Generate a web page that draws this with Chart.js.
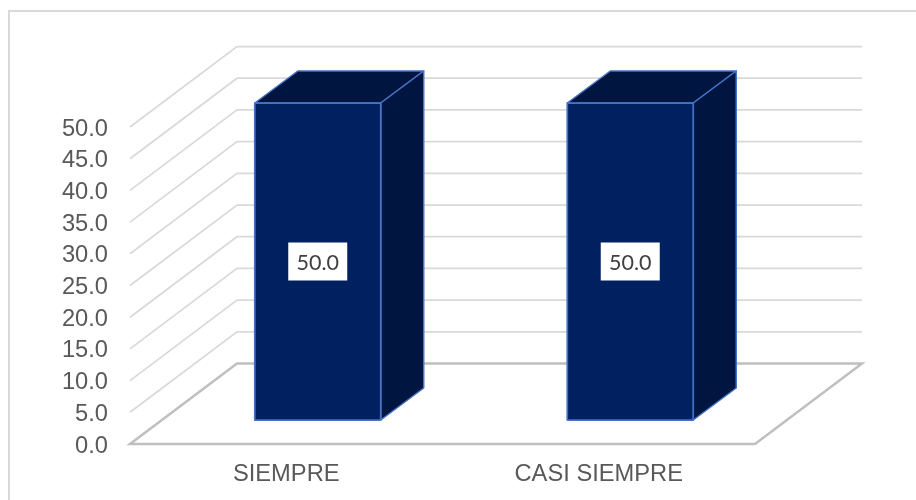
<!DOCTYPE html>
<html>
<head>
<meta charset="utf-8">
<title>Chart</title>
<script src="https://cdn.jsdelivr.net/npm/chart.js@4"></script>
<style>
  html, body { margin: 0; padding: 0; background: #fff; }
  #wrap { width: 916px; height: 500px; }
</style>
</head>
<body>
<div id="wrap"><canvas id="chart" width="916" height="500"></canvas></div>
<script>
const categories = ['SIEMPRE', 'CASI SIEMPRE'];
const values = [50.0, 50.0];
const yMax = 50;
const yStep = 5;

// depth of the floor and of the boxes standing on it
const wallDx = 107, wallDy = -80.5;
const barShiftX = 31.5, barShiftY = -24;
const barDx = 43, barDy = -32;

const fakeThreeD = {
  id: 'fakeThreeD',
  beforeDraw(chart) {
    const { ctx, chartArea: a, scales: { y } } = chart;
    ctx.save();
    // outer frame, only the top and left edges land on the canvas
    ctx.strokeStyle = '#d9d9d9';
    ctx.lineWidth = 2;
    ctx.strokeRect(9, 11, 920, 500);

    // wall grid lines, side wall then back wall
    ctx.lineWidth = 1.75;
    for (let v = yStep; v <= yMax; v += yStep) {
      const py = y.getPixelForValue(v);
      ctx.beginPath();
      ctx.moveTo(a.left, py);
      ctx.lineTo(a.left + wallDx, py + wallDy);
      ctx.lineTo(a.right + wallDx, py + wallDy);
      ctx.stroke();
    }

    // floor
    const y0 = y.getPixelForValue(0);
    ctx.strokeStyle = '#bfbfbf';
    ctx.lineWidth = 2.5;
    ctx.lineJoin = 'miter';
    ctx.beginPath();
    ctx.moveTo(a.left, y0);
    ctx.lineTo(a.right, y0);
    ctx.lineTo(a.right + wallDx, y0 + wallDy);
    ctx.lineTo(a.left + wallDx, y0 + wallDy);
    ctx.closePath();
    ctx.stroke();
    ctx.restore();
  },
  beforeDatasetDraw(chart, args) {
    const { ctx } = chart;
    ctx.save();
    ctx.translate(barShiftX, barShiftY);
    // top and side of each box, the front comes from the bar element
    ctx.fillStyle = '#001641';
    ctx.strokeStyle = '#4472c4';
    ctx.lineWidth = 1.5;
    ctx.lineJoin = 'round';
    args.meta.data.forEach(bar => {
      const l = bar.x - bar.width / 2, r = bar.x + bar.width / 2;
      ctx.beginPath();
      ctx.moveTo(l, bar.y);
      ctx.lineTo(l + barDx, bar.y + barDy);
      ctx.lineTo(r + barDx, bar.y + barDy);
      ctx.lineTo(r, bar.y);
      ctx.closePath();
      ctx.fill();
      ctx.stroke();
      ctx.beginPath();
      ctx.moveTo(r, bar.y);
      ctx.lineTo(r + barDx, bar.y + barDy);
      ctx.lineTo(r + barDx, bar.base + barDy);
      ctx.lineTo(r, bar.base);
      ctx.closePath();
      ctx.fill();
      ctx.stroke();
    });
  },
  afterDatasetDraw(chart, args) {
    const { ctx } = chart;
    ctx.font = '21.5px Lato';
    ctx.textAlign = 'center';
    ctx.textBaseline = 'middle';
    args.meta.data.forEach((bar, i) => {
      const cy = (bar.y + bar.base) / 2;
      // bar's own border sits inside its box, so the outline goes on here
      ctx.strokeStyle = '#4472c4';
      ctx.lineWidth = 1.75;
      ctx.strokeRect(bar.x - bar.width / 2, bar.y, bar.width, bar.base - bar.y);
      // value box
      ctx.fillStyle = '#fff';
      ctx.fillRect(bar.x - 29.5, cy - 19, 59, 38);
      ctx.fillStyle = '#404040';
      ctx.fillText(values[i].toFixed(1), bar.x, cy + 2);
    });
    ctx.restore();
  }
};

new Chart(document.getElementById('chart'), {
  type: 'bar',
  data: {
    labels: categories,
    datasets: [{
      data: values,
      backgroundColor: '#002060',
      borderWidth: 0,
      barPercentage: 0.403,
      categoryPercentage: 1
    }]
  },
  plugins: [fakeThreeD],
  options: {
    responsive: false,
    animation: false,
    layout: { padding: { top: 127, right: 161, left: 0, bottom: 0 } },
    plugins: { legend: { display: false }, tooltip: { enabled: false } },
    scales: {
      x: {
        afterFit: s => { s.height = 56; },
        grid: { display: false },
        border: { display: false },
        ticks: { color: '#595959', font: { family: 'Liberation Sans', size: 23.7 }, padding: 8, maxRotation: 0 }
      },
      y: {
        min: 0,
        max: yMax,
        afterFit: s => { s.width = 130; },
        grid: { display: false },
        border: { display: false },
        ticks: {
          stepSize: yStep,
          color: '#595959',
          font: { family: 'Liberation Sans', size: 23.7 },
          padding: 14,
          labelOffset: 2,
          callback: v => v.toFixed(1)
        }
      }
    }
  }
});
</script>
</body>
</html>
